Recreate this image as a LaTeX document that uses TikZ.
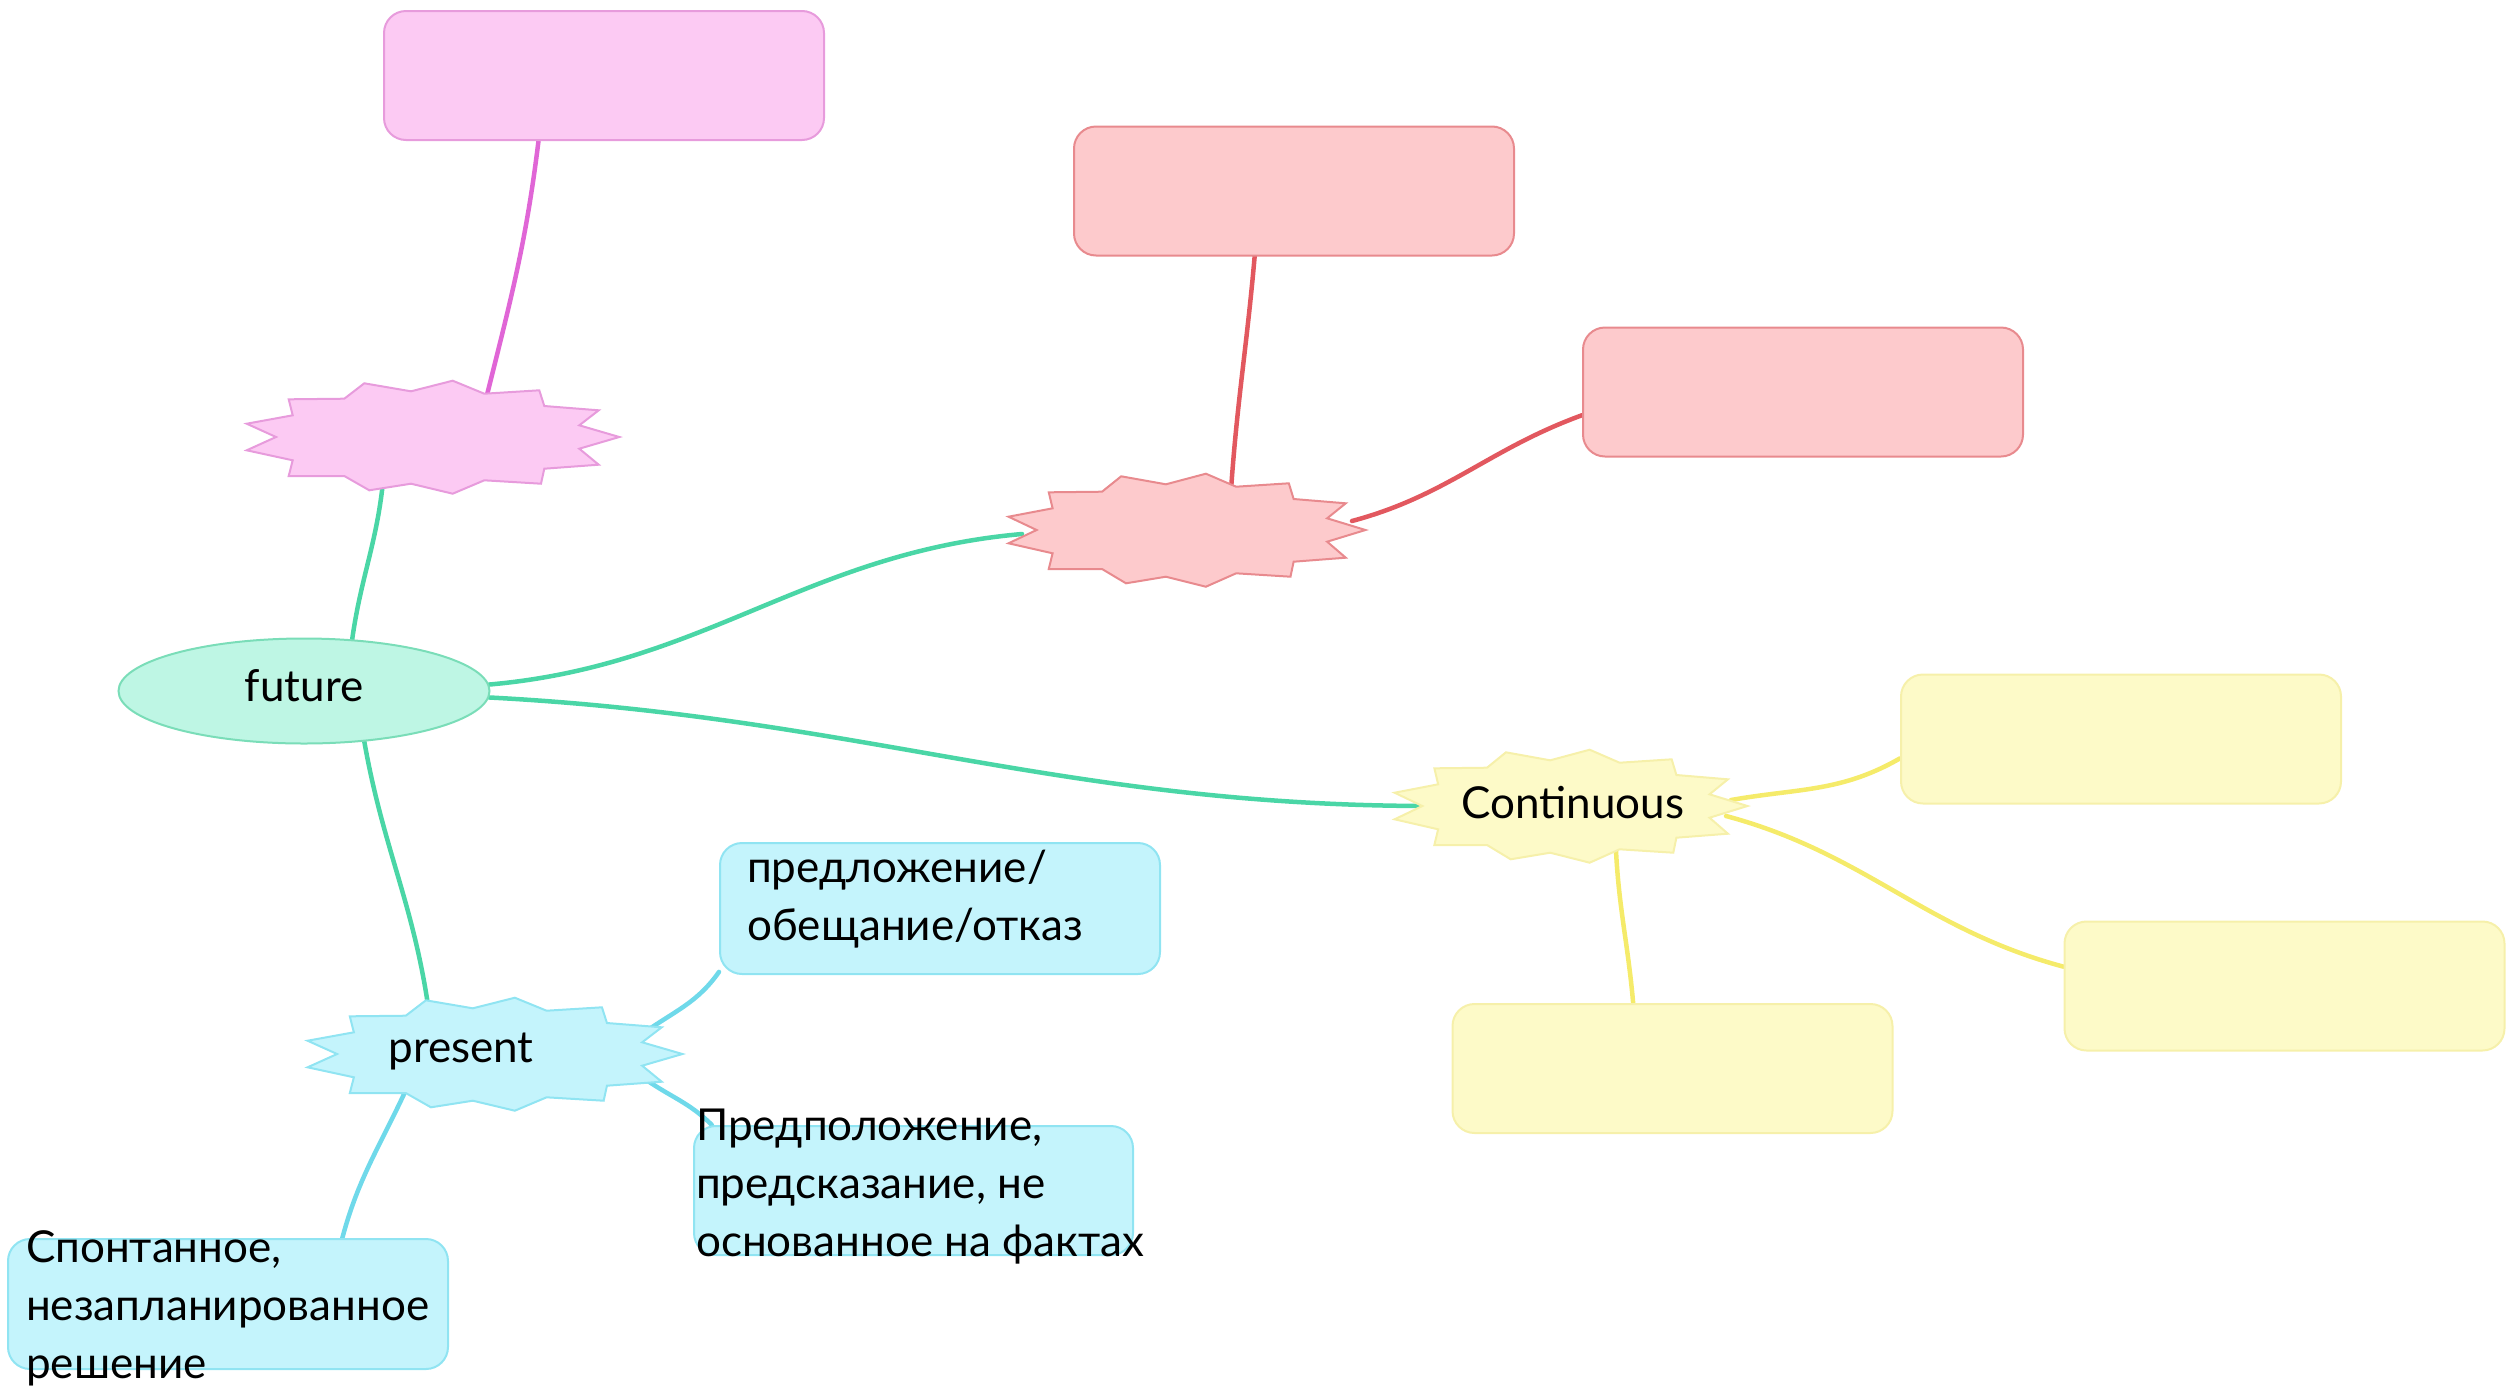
\documentclass[tikz,border=0pt]{standalone}
\usepackage{fontspec}
\setmainfont{Lato}
\usetikzlibrary{shapes.geometric}
\pgfdeclarelayer{bg}
\pgfsetlayers{bg,main}
\definecolor{tealL}{RGB}{74,214,166}
\definecolor{tealF}{RGB}{190,246,228}
\definecolor{tealD}{RGB}{122,221,184}
\definecolor{pinkL}{RGB}{224,102,214}
\definecolor{pinkF}{RGB}{252,202,243}
\definecolor{pinkD}{RGB}{231,155,220}
\definecolor{redL}{RGB}{226,88,95}
\definecolor{redF}{RGB}{253,202,204}
\definecolor{redD}{RGB}{232,138,142}
\definecolor{yelL}{RGB}{245,235,106}
\definecolor{yelF}{RGB}{253,250,200}
\definecolor{yelD}{RGB}{246,240,170}
\definecolor{cyanL}{RGB}{111,217,234}
\definecolor{cyanF}{RGB}{196,244,252}
\definecolor{cyanD}{RGB}{144,228,242}
\begin{document}
\begin{tikzpicture}[x=1pt,y=1pt,
  font=\fontsize{44}{58}\selectfont,
  burstpic/.pic={\path[pic actions]
    (-144.3,37.7) -- (-88.7,38.3) -- (-68.7,53.7) -- (-22,45.7) -- (19.7,56.3)
    -- (51.3,43.3) -- (106.3,46.7) -- (111.3,31) -- (165.7,26.7) -- (146.3,11.7)
    -- (186.3,0) -- (146.3,-11.7) -- (165.7,-27.7) -- (111.3,-31.7) -- (108,-46.7)
    -- (51.3,-43.3) -- (19.7,-56.7) -- (-22,-46.7) -- (-63.7,-53.3) -- (-88.7,-39)
    -- (-144.3,-39) -- (-140.3,-23.3) -- (-186.3,-13.3) -- (-157,0)
    -- (-186.3,13.3) -- (-140.3,21.7) -- cycle;},
  burstarea/.style={ellipse, inner sep=0pt, minimum width=#1, minimum height=111pt},
  burstlook/.style={line width=2pt, line join=miter},
  mbox/.style={rectangle, rounded corners=22pt, minimum width=440pt,
    minimum height=129pt, line width=2pt},
  txt/.style={anchor=west, align=left, inner sep=0pt},
  conn/.style={line width=4.5pt, line cap=round}]
\useasboundingbox (0,0) rectangle (2519,-1390);

% burst areas (named), shapes drawn as pics
\node[burstarea=373pt] (pinkb) at (433,-437) {};
\node[burstarea=357pt] (redb) at (1187,-530) {};
\node[burstarea=353pt] (contb) at (1571,-806) {};
\node[burstarea=375pt] (presb) at (495,-1054) {};
\pic[burstlook, fill=pinkF, draw=pinkD] at (pinkb.center) {burstpic};
\pic[burstlook, fill=redF, draw=redD, xscale=0.958] at (redb.center) {burstpic};
\pic[burstlook, fill=yelF, draw=yelD, xscale=0.947] at (contb.center) {burstpic};
\pic[burstlook, fill=cyanF, draw=cyanD, xscale=1.006] at (presb.center) {burstpic};

% central node
\node[ellipse, fill=tealF, draw=tealD, line width=2pt,
  minimum width=371pt, minimum height=105pt] (fut) at (304,-691) {};
\node (futt) at (304,-686) {future};

% boxes
\node[mbox, fill=pinkF, draw=pinkD] (pinkbox) at (604,-75.5) {};
\node[mbox, fill=redF, draw=redD] (redbox1) at (1294,-191) {};
\node[mbox, fill=redF, draw=redD] (redbox2) at (1803,-392) {};
\node[mbox, fill=yelF, draw=yelD] (yel1) at (2121,-739) {};
\node[mbox, fill=yelF, draw=yelD] (yel2) at (2284.5,-986) {};
\node[mbox, fill=yelF, draw=yelD] (yel3) at (1672.5,-1068.5) {};
\node[mbox, fill=cyanF, draw=cyanD, minimum height=131pt] (cyan1) at (940,-908.5) {};
\node[mbox, fill=cyanF, draw=cyanD, minimum width=439pt] (cyan2) at (913.5,-1190.5) {};
\node[mbox, fill=cyanF, draw=cyanD, minimum height=130pt] (cyan3) at (228,-1304) {};

% labels in bursts
\node (contt) at (1573,-803) {Continuous};
\node (prest) at (461,-1051) {present};

% connectors (under the shapes)
\begin{pgfonlayer}{bg}
\draw[conn, tealL] (fut.47) to[out=82, in=-96] ([shift={(-50,-45)}]pinkb.center);
\draw[conn, tealL] (fut.2) to[out=5, in=185] ([shift={(-165,-4)}]redb.center);
\draw[conn, tealL] (fut.-2) to[out=-3, in=180] ([shift={(-140,0)}]contb.center);
\draw[conn, tealL] (fut.-40) to[out=-80, in=98] ([shift={(-66,42)}]presb.center);

\draw[conn, pinkL] ([shift={(53,38)}]pinkb.center) to[out=76, in=-97] (pinkbox.225);

\draw[conn, redL] ([shift={(44,40)}]redb.center) to[out=86, in=-95] (redbox1.239);
\draw[conn, redL] ([shift={(165,9)}]redb.center) to[out=15, in=200] (redbox2.186);

\draw[conn, yelL] ([shift={(160,6)}]contb.center) to[out=10, in=210] (yel1.185);
\draw[conn, yelL] ([shift={(155,-10)}]contb.center) to[out=-15, in=165] (yel2.175);
\draw[conn, yelL] ([shift={(45,-45)}]contb.center) to[out=-87, in=95] (yel3.121);

\draw[conn, cyanL] ([shift={(150,22)}]presb.center) to[out=35, in=235] (cyan1.196);
\draw[conn, cyanL] ([shift={(150,-25)}]presb.center) to[out=-35, in=135] (cyan2.162);
\draw[conn, cyanL] ([shift={(-90,-38)}]presb.center) to[out=-115, in=75] (cyan3.30);
\end{pgfonlayer}

% texts
\node[txt] (c1t) at (747,-899) {предложение/\\обещание/отказ};
\node[txt] (c2t) at (696,-1187) {Предположение,\\предсказание, не\\основанное на фактах};
\node[txt] (c3t) at (26,-1308) {Спонтанное,\\незапланированное\\решение};
\end{tikzpicture}
\end{document}
